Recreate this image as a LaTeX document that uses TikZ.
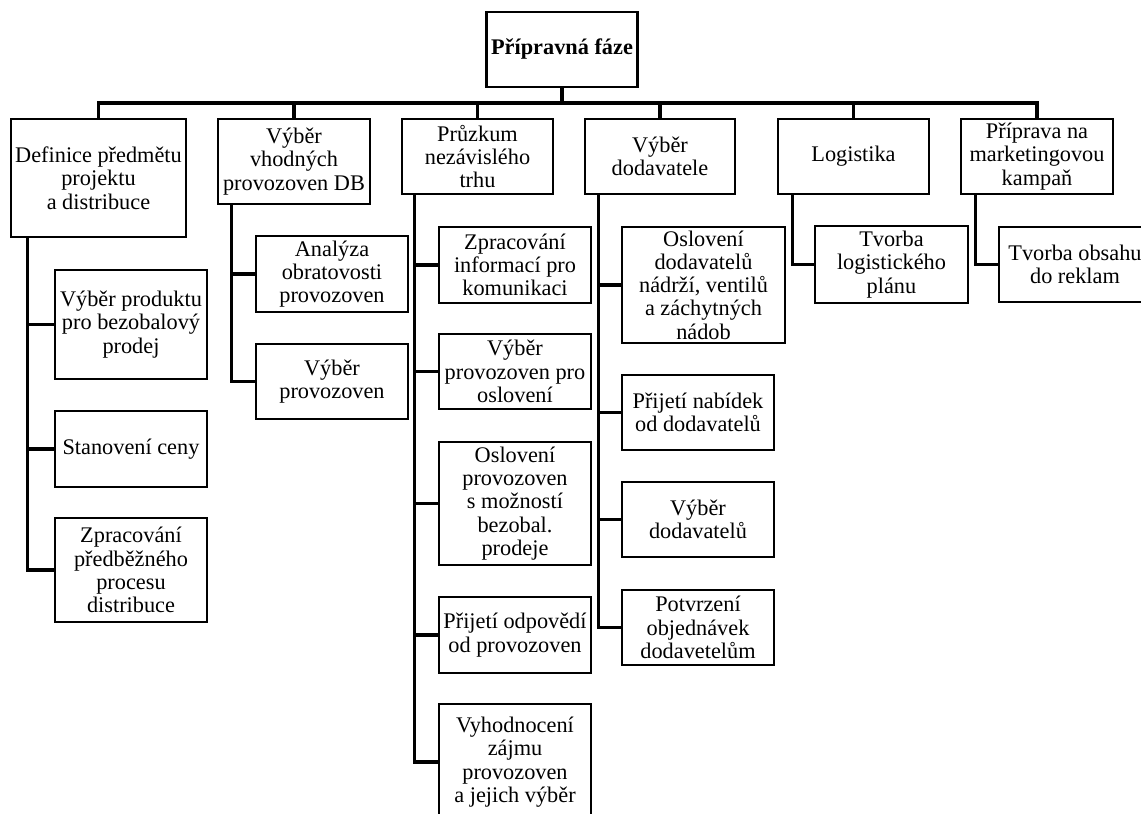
\documentclass[tikz,border=0pt]{standalone}
\usepackage{fontspec}
\setmainfont{Liberation Serif}
\usepackage{tikz}

\tikzset{
  box/.style={draw, line width=2.8pt, align=center, inner sep=0pt,
    font=\fontsize{22.3}{23.3}\selectfont},
  link/.style={line width=3.2pt}
}

\begin{document}
\begin{tikzpicture}[x=1pt, y=-1pt]
\useasboundingbox (0,0) rectangle (1141,814);
\clip (0,0) rectangle (1141,814);

% root
\node[box, minimum width=151pt, minimum height=75pt] (root) at (562,49.5) {\textbf{Přípravná fáze}};
\coordinate (bus) at (562,103);

% first level
\node[box, minimum width=175pt, minimum height=118pt] (def) at (98.5,178) {Definice předmětu\\projektu\\a distribuce};
\node[box, minimum width=152pt, minimum height=85pt] (vyb) at (294,161.5) {Výběr\\vhodných\\provozoven DB};
\node[box, minimum width=151pt, minimum height=75pt] (pruz) at (477.5,156.5) {Průzkum\\nezávislého\\trhu};
\node[box, minimum width=150pt, minimum height=75pt] (dod) at (660,156.5) {Výběr\\dodavatele};
\node[box, minimum width=151pt, minimum height=75pt] (log) at (853.5,156.5) {Logistika};
\node[box, minimum width=152pt, minimum height=75pt] (mkt) at (1037,156.5) {Příprava na\\marketingovou\\kampaň};

\draw[link] (root.south) -- (bus);
\foreach \c in {def,vyb,pruz,dod,log,mkt}
  \draw[link] (bus) -| (\c.north);

% Definice predmetu
\node[box, minimum width=152pt, minimum height=109pt] (def1) at (131,324.5) {Výběr produktu\\pro bezobalový\\prodej};
\node[box, minimum width=152pt, minimum height=76pt] (def2) at (131,449) {Stanovení ceny};
\node[box, minimum width=152pt, minimum height=104pt] (def3) at (131,570) {Zpracování\\předběžného\\procesu\\distribuce};
\foreach \c in {def1,def2,def3}
  \draw[link] ([xshift=18pt]def.south west) |- (\c.west);

% Vyber provozoven
\node[box, minimum width=152pt, minimum height=76pt] (vyb1) at (332,274) {Analýza\\obratovosti\\provozoven};
\node[box, minimum width=152pt, minimum height=75pt] (vyb2) at (332,381.5) {Výběr\\provozoven};
\foreach \c in {vyb1,vyb2}
  \draw[link] ([xshift=15pt]vyb.south west) |- (\c.west);

% Pruzkum trhu
\node[box, minimum width=152pt, minimum height=76pt] (pruz1) at (515,265) {Zpracování\\informací pro\\komunikaci};
\node[box, minimum width=152pt, minimum height=75pt] (pruz2) at (515,371.5) {Výběr\\provozoven pro\\oslovení};
\node[box, minimum width=152pt, minimum height=123pt] (pruz3) at (515,503.5) {Oslovení\\provozoven\\s možností\\bezobal.\\prodeje};
\node[box, minimum width=152pt, minimum height=76pt] (pruz4) at (515,635) {Přijetí odpovědí\\od provozoven};
\node[box, minimum width=152pt, minimum height=116pt] (pruz5) at (515,762) {Vyhodnocení\\zájmu\\provozoven\\a jejich výběr};
\foreach \c in {pruz1,pruz2,pruz3,pruz4,pruz5}
  \draw[link] ([xshift=14pt]pruz.south west) |- (\c.west);

% Vyber dodavatele
\node[box, minimum width=163pt, minimum height=116pt] (dod1) at (703.5,285) {Oslovení\\dodavatelů\\nádrží, ventilů\\a záchytných\\nádob};
\node[box, minimum width=152pt, minimum height=75pt] (dod2) at (698,412.5) {Přijetí nabídek\\od dodavatelů};
\node[box, minimum width=152pt, minimum height=75pt] (dod3) at (698,519.5) {Výběr\\dodavatelů};
\node[box, minimum width=152pt, minimum height=75pt] (dod4) at (698,627.5) {Potvrzení\\objednávek\\dodavetelům};
\foreach \c in {dod1,dod2,dod3,dod4}
  \draw[link] ([xshift=15pt]dod.south west) |- (\c.west);

% Logistika, marketing
\node[box, minimum width=153pt, minimum height=77pt] (log1) at (891.5,264.5) {Tvorba\\logistického\\plánu};
\draw[link] ([xshift=16pt]log.south west) |- (log1.west);
\node[box, minimum width=152pt, minimum height=75pt] (mkt1) at (1075,264.5) {Tvorba obsahu\\do reklam};
\draw[link] ([xshift=16pt]mkt.south west) |- (mkt1.west);
\end{tikzpicture}
\end{document}
